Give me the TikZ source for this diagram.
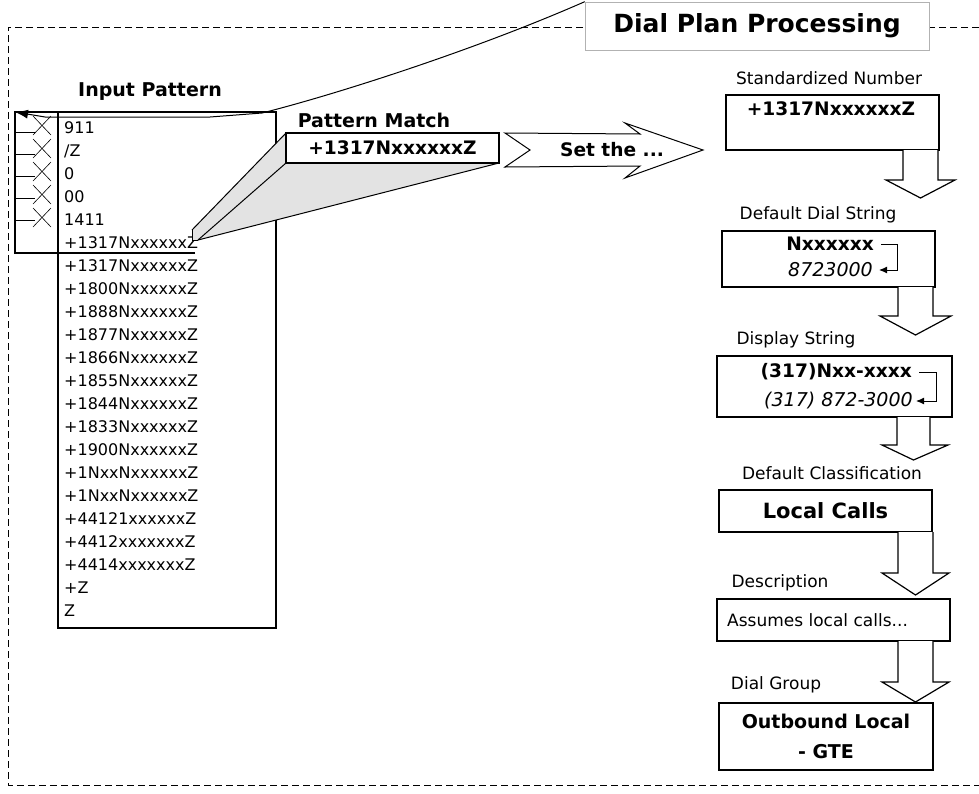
\documentclass[tikz,border=0pt]{standalone}
\usepackage{fontspec}
\setmainfont{DejaVu Sans}
\usetikzlibrary{arrows.meta,calc}
\begin{document}
\begin{tikzpicture}[x=1pt, y=-1pt,
    box/.style={draw, line width=1.4pt, fill=white, inner sep=0pt, outer sep=0pt},
    lbl/.style={inner sep=0pt, font=\fontsize{17}{20}\selectfont},
    entry/.style={inner sep=0pt, anchor=west, font=\fontsize{16}{19}\selectfont},
    boldtxt/.style={inner sep=0pt, font=\fontsize{18.6}{22}\selectfont\bfseries},
    itatxt/.style={inner sep=0pt, font=\fontsize{19}{22}\selectfont\itshape},
    hollow/.style={draw, line width=1.2pt, fill=white},
    rtn/.style={line width=1pt, -{Latex[length=8pt, width=7pt]}}]
    \useasboundingbox (0,0) rectangle (979,793);

    % Dashed frame round the processing
    \draw[line width=1pt, dash pattern=on 7pt off 4pt] (979,27) -- (8,27) -- (8,785) -- (979,785);

    % Title
    \node[draw=gray!60, line width=0.6pt, fill=white, minimum width=344pt, minimum height=48pt, inner sep=0pt,
          font=\fontsize{25}{30}\selectfont\bfseries] (title) at (757,26) {Dial Plan Processing};

    % Input pattern list
    \node[inner sep=0pt, font=\fontsize{19}{22}\selectfont\bfseries] (inlbl) at (150,92) {Input Pattern};
    \node[box, minimum width=218pt, minimum height=516pt] (inbox) at (167,370) {};
    \foreach \txt [count=\i] in {911, /Z, 0, 00, 1411, +1317NxxxxxxZ, +1317NxxxxxxZ, +1800NxxxxxxZ,
        +1888NxxxxxxZ, +1877NxxxxxxZ, +1866NxxxxxxZ, +1855NxxxxxxZ, +1844NxxxxxxZ, +1833NxxxxxxZ,
        +1900NxxxxxxZ, +1NxxNxxxxxxZ, +1NxxNxxxxxxZ, +44121xxxxxxZ, +4412xxxxxxxZ, +4414xxxxxxxZ, +Z, Z}
        \node[entry] (row\i) at (64, 105+23*\i) {\txt};

    % Skipped entries
    \coordinate (selnw) at (15,112);
    \draw[line width=1.2pt] (195,253) -- (15,253) -- (selnw) -- (inbox.north west);
    \foreach \i in {0,...,4} {
        \draw[line width=1pt] (15,132+22*\i) -- (35,132+22*\i);
        \draw[line width=0.6pt] (33,116+23*\i) -- (51,135+23*\i) (33,135+23*\i) -- (51,116+23*\i);
    }

    % Matched entry
    \node[inner sep=0pt, font=\fontsize{19}{22}\selectfont\bfseries] (pmlbl) at (374,120) {Pattern Match};
    \coordinate (bmA) at (192,230);
    \coordinate (bmE) at (198,240);
    \coordinate (bmF) at (192,240);
    \fill[gray!22] (bmA) -- (286,133) -- (286,163) -- (499,163) -- (bmE) -- (bmF) -- cycle;
    \node[box, minimum width=213pt, minimum height=30pt, font=\fontsize{18.6}{22}\selectfont\bfseries] (pm) at (392.5,148) {+1317NxxxxxxZ};
    \draw[line width=1pt] (bmA) -- (pm.north west);
    \draw[line width=1pt] (bmE) -- (pm.south west);
    \draw[line width=1pt] (bmE) -- (pm.south east);
    \draw[line width=1pt] (bmA) -- (bmF) -- (bmE);

    % Link from the title
    \draw[line width=1pt, -{Latex[length=13pt, width=9pt]}] (title.north west) .. controls (470,52) and (330,96) .. (262,113)
        -- (210,117) -- (45,117) -- (selnw);

    % Set the ...
    \draw[line width=1pt, fill=white] (505,133) -- (640,134) -- (625,123) -- (703,150) -- (625,178) -- (640,166) -- (505,167) -- (530,150) -- cycle;
    \node[boldtxt] (setlbl) at (612,150) {Set the ...};

    % Standardized number
    \node[lbl] (stdlbl) at (829,78) {Standardized Number};
    \node[box, minimum width=213pt, minimum height=55pt] (std) at (832.5,122.5) {};
    \node[boldtxt] (stdnum) at (831,109) {+1317NxxxxxxZ};
    \draw[hollow] ($(std.south east)+(-36,0)$) -- ++(0,30) -- ++(-17,0) -- ++(34.5,18) -- ++(34.5,-18) -- ++(-17,0) -- ++(0,-30);

    % Default dial string
    \node[lbl] (ddslbl) at (818,215) {Default Dial String};
    \node[box, minimum width=213pt, minimum height=56pt] (dds) at (828.5,259) {};
    \node[boldtxt, anchor=east] (ddspat) at (874,244) {Nxxxxxx};
    \node[itatxt, anchor=east] (ddsval) at (873,270) {8723000};
    \draw[rtn] ([xshift=7pt]ddspat.east) -- ++(16,0) |- ([xshift=6pt]ddsval.east);
    \draw[hollow] ($(dds.south east)+(-37,0)$) -- ++(0,29) -- ++(-18,0) -- ++(35.5,19) -- ++(35.5,-19) -- ++(-18,0) -- ++(0,-29);

    % Display string
    \node[lbl] (displbl) at (796,340) {Display String};
    \node[box, minimum width=235pt, minimum height=61pt] (disp) at (834.5,386.5) {};
    \node[boldtxt, anchor=east] (disppat) at (912,372) {(317)Nxx-xxxx};
    \node[itatxt, anchor=east] (dispval) at (913,401) {(317) 872-3000};
    \draw[rtn] ([xshift=7pt]disppat.east) -- ++(17,0) |- ([xshift=3pt]dispval.east);
    \draw[hollow] ($(disp.south east)+(-55,0)$) -- ++(0,28) -- ++(-15,0) -- ++(31.5,15) -- ++(34.5,-15) -- ++(-18,0) -- ++(0,-28);

    % Default classification
    \node[lbl] (clslbl) at (832,473) {Default Classification};
    \node[box, minimum width=213pt, minimum height=42pt, font=\fontsize{21}{25}\selectfont\bfseries] (cls) at (825.5,511) {Local Calls};
    \draw[hollow] ($(cls.south east)+(-34,0)$) -- ++(0,41) -- ++(-16,0) -- ++(33.5,22) -- ++(33.5,-22) -- ++(-16,0) -- ++(0,-41);

    % Description
    \node[lbl] (desclbl) at (780,583) {Description};
    \node[box, minimum width=233pt, minimum height=42pt] (desc) at (833.5,620) {};
    \node[inner sep=0pt, anchor=west, font=\fontsize{17}{20}\selectfont] (desctxt) at (727,620) {Assumes local calls...};
    \draw[hollow] ($(desc.south east)+(-52,0)$) -- ++(0,41) -- ++(-16,0) -- ++(33.5,20) -- ++(33.5,-20) -- ++(-16,0) -- ++(0,-41);

    % Dial group
    \node[lbl] (grplbl) at (776,685) {Dial Group};
    \node[box, minimum width=214pt, minimum height=67pt, align=center,
          font=\fontsize{19}{30}\selectfont\bfseries] (grp) at (826,736.5) {Outbound Local\\- GTE};
\end{tikzpicture}
\end{document}
